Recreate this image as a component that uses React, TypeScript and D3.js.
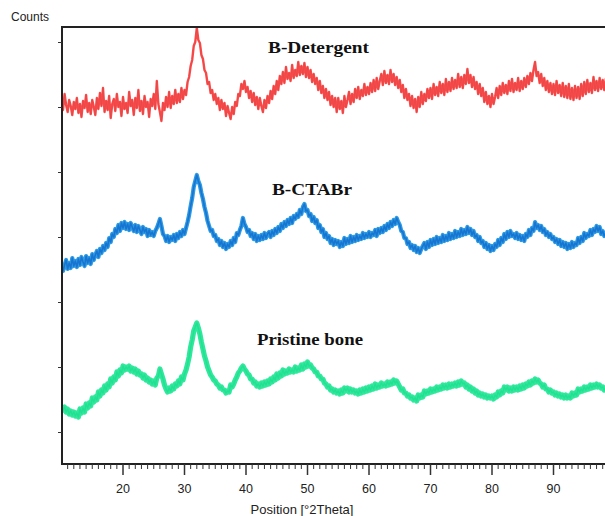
import React from "react";
import * as d3 from "d3";

// XRD scan grid (degrees 2Theta)
const START_ANGLE = 10;
const STEP = 0.25;

const xTicks = [20, 30, 40, 50, 60, 70, 80, 90];
const yTickCounts = [32, 97, 162, 227, 292, 357, 422];

const detergent = [
  368, 354, 370, 359, 352, 364, 358, 349, 362, 355, 366, 351, 360, 347, 363, 356, 369, 352, 361, 350,
  364, 357, 349, 366, 355, 371, 358, 376, 352, 363, 354, 368, 346, 360, 365, 353, 370, 357, 362, 348,
  367, 355, 361, 351, 372, 358, 364, 349, 366, 356, 374, 353, 363, 350, 368, 357, 362, 347, 365, 358,
  370, 355, 383, 360, 352, 343, 361, 354, 367, 357, 372, 356, 368, 360, 374, 361, 370, 362, 376, 365,
  374, 369, 382, 387, 398, 404, 418, 422, 436, 424, 421, 409, 405, 394, 391, 380, 382, 371, 374, 364,
  370, 360, 366, 354, 364, 355, 361, 348, 358, 351, 345, 357, 350, 362, 358, 370, 368, 380, 375, 383,
  372, 377, 366, 373, 362, 371, 359, 367, 355, 366, 358, 352, 364, 356, 368, 361, 373, 365, 378, 370,
  383, 374, 388, 380, 392, 381, 397, 385, 391, 383, 399, 386, 394, 388, 402, 389, 398, 390, 401, 387,
  397, 386, 394, 382, 390, 380, 386, 374, 383, 371, 378, 366, 375, 364, 372, 359, 368, 357, 366, 352,
  366, 355, 363, 351, 368, 357, 364, 372, 360, 370, 362, 375, 366, 377, 365, 374, 368, 380, 369, 377,
  370, 381, 372, 384, 373, 386, 375, 383, 390, 379, 393, 381, 389, 380, 394, 382, 390, 379, 387, 376,
  384, 372, 379, 366, 375, 364, 370, 358, 368, 356, 365, 352, 367, 357, 372, 360, 370, 363, 375, 366,
  376, 365, 380, 369, 377, 368, 382, 371, 380, 369, 385, 372, 382, 373, 386, 375, 384, 376, 390, 377,
  387, 376, 389, 380, 395, 381, 389, 377, 387, 375, 382, 370, 380, 368, 376, 362, 372, 360, 368, 357,
  370, 360, 367, 376, 366, 378, 369, 381, 371, 379, 370, 383, 373, 385, 372, 381, 374, 386, 373, 383,
  375, 386, 377, 388, 380, 391, 383, 394, 402, 388, 392, 381, 390, 378, 386, 374, 383, 372, 381, 370,
  380, 369, 383, 371, 379, 368, 381, 367, 378, 366, 380, 365, 376, 364, 378, 366, 377, 365, 380, 368,
  382, 370, 384, 372, 381, 371, 387, 374, 383, 373, 386, 375, 384, 374, 385, 376,
];

const ctabr = [
  200, 193, 199, 204, 195, 201, 196, 206, 198, 203, 197, 205, 199, 207, 202, 198, 208, 201, 206, 200,
  210, 204, 209, 213, 207, 215, 211, 218, 214, 221, 217, 226, 222, 230, 227, 235, 231, 239, 233, 241,
  236, 242, 235, 240, 234, 241, 237, 233, 239, 232, 238, 234, 230, 237, 232, 235, 228, 234, 229, 232,
  228, 233, 236, 240, 245, 238, 230, 228, 223, 228, 222, 227, 224, 229, 223, 230, 226, 232, 228, 234,
  230, 236, 242, 249, 258, 266, 277, 283, 289, 283, 279, 271, 265, 257, 251, 243, 238, 233, 234, 228,
  229, 223, 225, 219, 223, 217, 221, 215, 220, 217, 223, 219, 226, 222, 231, 229, 234, 238, 246, 240,
  237, 232, 234, 228, 231, 225, 230, 223, 228, 224, 229, 225, 231, 226, 230, 232, 227, 233, 229, 235,
  231, 237, 233, 240, 236, 242, 238, 244, 240, 246, 241, 248, 245, 250, 247, 254, 250, 257, 260, 253,
  254, 248, 250, 243, 247, 241, 244, 236, 239, 232, 235, 227, 231, 225, 228, 221, 225, 219, 224, 220,
  223, 217, 222, 218, 226, 220, 225, 221, 228, 222, 227, 223, 229, 224, 228, 225, 231, 226, 230, 227,
  232, 227, 231, 229, 234, 228, 235, 231, 236, 232, 238, 234, 240, 236, 242, 238, 244, 240, 246, 242,
  239, 233, 232, 226, 226, 220, 222, 216, 219, 214, 218, 212, 216, 211, 215, 218, 221, 215, 222, 217,
  224, 219, 225, 220, 227, 221, 226, 222, 229, 223, 228, 224, 231, 225, 230, 226, 233, 227, 232, 228,
  235, 229, 234, 230, 237, 231, 235, 229, 233, 227, 229, 223, 227, 221, 223, 217, 221, 215, 219, 213,
  218, 214, 220, 217, 224, 219, 226, 222, 230, 225, 232, 227, 233, 228, 230, 226, 231, 225, 229, 224,
  228, 223, 230, 227, 234, 229, 236, 233, 242, 236, 239, 234, 238, 232, 235, 229, 232, 227, 230, 225,
  227, 222, 225, 220, 224, 218, 222, 217, 221, 215, 220, 216, 222, 217, 221, 219, 226, 221, 227, 223,
  231, 226, 230, 228, 234, 229, 235, 232, 238, 233, 237, 230, 233, 228, 231, 229,
];

const pristine = [
  58, 54, 57, 52, 55, 50, 53, 49, 52, 48, 51, 47, 55, 51, 56, 52, 60, 56, 61, 58,
  66, 62, 67, 64, 72, 68, 74, 71, 78, 74, 80, 77, 85, 81, 87, 84, 92, 88, 94, 91,
  98, 94, 97, 95, 98, 93, 96, 92, 95, 90, 93, 89, 90, 86, 89, 84, 86, 82, 84, 80,
  83, 79, 86, 88, 95, 90, 85, 79, 75, 72, 76, 73, 78, 75, 80, 78, 83, 80, 87, 84,
  90, 94, 100, 107, 117, 124, 133, 137, 141, 136, 130, 122, 115, 108, 103, 97, 93, 89, 87, 84,
  83, 80, 79, 76, 77, 74, 74, 71, 73, 72, 79, 77, 80, 84, 87, 91, 93, 96, 98, 95,
  93, 90, 89, 85, 85, 81, 82, 78, 80, 77, 81, 78, 82, 79, 83, 80, 85, 82, 87, 84,
  90, 86, 91, 88, 94, 90, 93, 91, 95, 92, 94, 92, 97, 93, 96, 94, 99, 95, 100, 97,
  102, 98, 99, 96, 95, 92, 92, 88, 88, 85, 85, 81, 80, 77, 78, 74, 75, 72, 74, 71,
  73, 70, 74, 71, 76, 73, 76, 72, 75, 72, 74, 71, 73, 70, 74, 71, 75, 72, 76, 73,
  77, 74, 78, 75, 80, 76, 79, 77, 81, 78, 80, 78, 82, 79, 82, 80, 84, 81, 83, 80,
  77, 74, 75, 71, 71, 68, 69, 66, 67, 64, 66, 63, 69, 66, 69, 67, 73, 70, 73, 71,
  75, 72, 75, 73, 77, 74, 77, 75, 79, 76, 79, 76, 80, 77, 80, 78, 81, 78, 82, 79,
  83, 80, 81, 77, 79, 75, 77, 73, 75, 71, 73, 69, 71, 68, 70, 67, 69, 66, 68, 66,
  68, 65, 69, 67, 72, 69, 73, 71, 77, 74, 77, 73, 76, 73, 77, 74, 77, 74, 78, 75,
  79, 76, 80, 78, 82, 79, 83, 81, 85, 82, 84, 81, 80, 77, 79, 75, 75, 72, 74, 71,
  72, 69, 71, 68, 70, 67, 69, 66, 69, 66, 68, 66, 71, 68, 71, 69, 75, 72, 75, 73,
  77, 74, 77, 75, 79, 76, 79, 77, 80, 77, 79, 76, 77, 74, 76, 73,
];

const seriesNames = ["B-Detergent", "B-CTABr", "Pristine bone"];
const seriesColors = ["#ff4a4a", "#2c9ae4", "#2ee99b"];
const seriesCoreColors = ["#c84646", "#0a5ec4", "#1cd98c"];
const seriesBandWidths = [2.4, 4.2, 5.2];
const seriesCoreWidths = [0.6, 1.6, 1.4];
const labelLeft = [268, 272, 257];
const labelBaseline = [53, 195, 345];
const labelWidths = [101, 80, 106];

const W = 605;
const H = 516;
const left = 62;
const top = 27;
const bottom = 464;
const xScale = d3.scaleLinear().domain([10, 100]).range([61.5, 61.5 + 90 * 6.15]);
const yScale = d3.scaleLinear().domain([0, 437]).range([bottom, top]);

export default function App() {
  const allSeries = [detergent, ctabr, pristine];
  const line = d3
    .line<number>()
    .x((_, i) => xScale(START_ANGLE + i * STEP))
    .y((d) => yScale(d));
  const minorTicks = d3.range(11, 100, 1).filter((v) => v % 10 !== 0);
  return (
    <svg
      width={W}
      height={H}
      style={{ position: "absolute", left: 0, top: 0, background: "#fff" }}
      fontFamily="Liberation Sans, Arial, sans-serif"
    >
      <defs>
        <clipPath id="plot">
          <rect x={left} y={top} width={W - left} height={bottom - top} />
        </clipPath>
      </defs>
      <text x={11} y={21} fontSize={12} fill="#222">Counts</text>
      {allSeries.map((s, k) => (
        <g key={k} clipPath="url(#plot)">
          <path
            d={line(s) || ""}
            fill="none"
            stroke={seriesColors[k]}
            strokeWidth={seriesBandWidths[k]}
            strokeLinejoin="round"
          />
          <path
            d={line(s) || ""}
            fill="none"
            stroke={seriesCoreColors[k]}
            strokeWidth={seriesCoreWidths[k]}
            strokeOpacity={0.6}
            strokeLinejoin="round"
          />
        </g>
      ))}
      {seriesNames.map((n, k) => (
        <text
          key={n}
          x={labelLeft[k]}
          y={labelBaseline[k]}
          fontFamily="Liberation Serif, Times New Roman, serif"
          fontWeight="bold"
          fontSize={17}
          textLength={labelWidths[k]}
          lengthAdjust="spacingAndGlyphs"
          fill="#111"
        >
          {n}
        </text>
      ))}
      {/* frame */}
      <line x1={left} x2={W} y1={top} y2={top} stroke="#222" strokeWidth={2} />
      <line x1={left} x2={left} y1={top - 1} y2={bottom + 1} stroke="#222" strokeWidth={2} />
      <line x1={left - 1} x2={W} y1={bottom} y2={bottom} stroke="#222" strokeWidth={2} />
      {yTickCounts.map((c) => (
        <line key={c} x1={left - 4} x2={left} y1={yScale(c) + 0.5} y2={yScale(c) + 0.5} stroke="#333" strokeWidth={1} />
      ))}
      {minorTicks.map((v) => (
        <line key={v} x1={xScale(v)} x2={xScale(v)} y1={bottom} y2={bottom + 5} stroke="#333" strokeWidth={1} />
      ))}
      {xTicks.map((v) => (
        <g key={v}>
          <line x1={xScale(v)} x2={xScale(v)} y1={bottom} y2={bottom + 11} stroke="#333" strokeWidth={1.5} />
          <text x={xScale(v)} y={493} textAnchor="middle" fontSize={12.5} fill="#222">
            {v}
          </text>
        </g>
      ))}
      <text x={302} y={514} textAnchor="middle" fontSize={13} fill="#222">
        Position [°2Theta]
      </text>
    </svg>
  );
}
